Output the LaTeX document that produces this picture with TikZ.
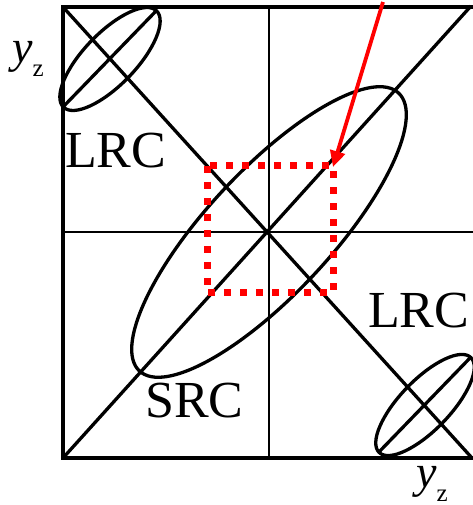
\documentclass[tikz,border=0pt]{standalone}
\usepackage{fontspec}
\setmainfont{Liberation Serif}
\usetikzlibrary{arrows.meta}
\begin{document}
\begin{tikzpicture}[x=1pt,y=1pt,
  frameline/.style={line width=4.5pt},
  axisline/.style={line width=2.5pt},
  diagline/.style={line width=3.3pt},
  ell/.style={line width=3.3pt},
  lab/.style={inner sep=0pt,anchor=base west,font=\fontsize{52}{52}\selectfont},
  redsq/.style={red,line width=7pt,dash pattern=on 7pt off 9pt},
  redarrow/.style={red,line width=3.8pt,-{Triangle[length=16pt,width=15pt]}}]
\useasboundingbox (0,0) rectangle (472,505);
% frame
\draw[frameline] (474,498) -- (63,498) -- (63,47) -- (474,47);
% cross
\draw[axisline] (269,47) -- (269,498);
\draw[axisline] (63,273) -- (474,273);
% diagonals
\draw[diagline] (63,47) -- (471,499);
\draw[diagline] (63,498) -- (472,47);
% big ellipse
\draw[ell] (269,273) ellipse[x radius=190,y radius=62,rotate=47];
% top-left ellipse
\draw[ell] (110,446) ellipse[x radius=67,y radius=26,rotate=46];
\draw[diagline] (63,398) -- (157,495);
% bottom-right ellipse
\draw[ell] (425,100) ellipse[x radius=66,y radius=25,rotate=46];
\draw[diagline] (378,52) -- (470,147);
% red dotted square
\draw[redsq] (207,339) rectangle (333,212);
% red arrow
\coordinate (arrS) at (383,503);
\coordinate (arrE) at (333,338);
\draw[redarrow] (arrS) -- (arrE);
% labels
\node[lab] (lrc1) at (65,337) {LRC};
\node[lab] (lrc2) at (368,177) {LRC};
\node[lab] (src) at (145,87) {SRC};
\node[inner sep=0pt,anchor=base west] (yz1) at (12,442)
  {\fontsize{46}{46}\selectfont\textit{y}\fontsize{25}{25}\selectfont\raisebox{-14pt}{z}};
\node[inner sep=0pt,anchor=base west] (yz2) at (416,17)
  {\fontsize{46}{46}\selectfont\textit{y}\fontsize{25}{25}\selectfont\raisebox{-13pt}{z}};
\end{tikzpicture}
\end{document}
